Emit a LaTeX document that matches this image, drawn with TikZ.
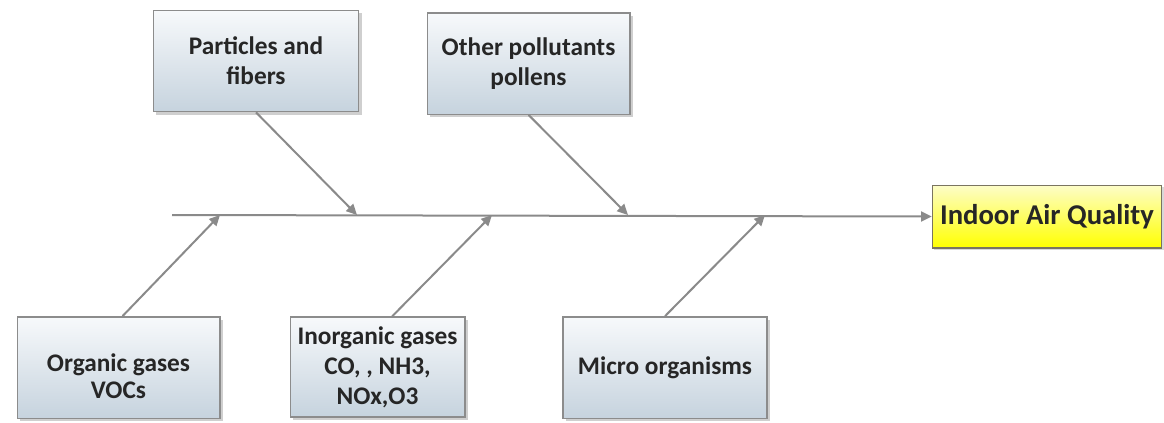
\documentclass[tikz,border=0pt]{standalone}
\usepackage{fontspec}
\setmainfont{Carlito}
\usetikzlibrary{arrows.meta,shadows}

\definecolor{boxtop}{HTML}{F7F9FB}
\definecolor{boxbot}{HTML}{C6D3DE}
\definecolor{boxline}{HTML}{8C8C8C}
\definecolor{iaqtop}{HTML}{FDFDC8}
\definecolor{iaqline}{HTML}{7A7460}
\definecolor{bonegray}{HTML}{8A8A8A}

\tikzset{
  causebox/.style={draw=boxline, line width=1pt, top color=boxtop, bottom color=boxbot,
    align=center, font=\bfseries\fontsize{19}{22.5}\selectfont, text=black!85,
    inner sep=1pt, drop shadow={shadow xshift=2.2pt, shadow yshift=-2.2pt, fill=gray!75}},
  effectbox/.style={draw=iaqline, line width=1pt, top color=iaqtop, bottom color=yellow,
    align=center, font=\bfseries\fontsize{21.5}{26}\selectfont, text=black!85,
    inner sep=1pt, drop shadow={shadow xshift=1.5pt, shadow yshift=-1.5pt, fill=gray!60}},
  bone/.style={draw=bonegray, line width=1.5pt, -{Triangle[length=8pt, width=7.5pt]}}
}

\begin{document}
\begin{tikzpicture}[x=0.75pt, y=-0.75pt]
   \useasboundingbox (0,0) rectangle (1164,422);

   % effect and spine
   \node(IAQ)[effectbox, minimum width=172pt, minimum height=47pt] at (1047,216.5) {Indoor Air Quality};
   \coordinate(S) at (172,215);
   \draw[bone] (S) -- (IAQ.west);

   % points where the bones meet the spine
   \coordinate(C1) at (220,215);
   \coordinate(C2) at (357,215);
   \coordinate(C3) at (492,215);
   \coordinate(C4) at (628,215);
   \coordinate(C5) at (765,215);

   % upper causes
   \node(PF)[causebox, minimum width=154pt, minimum height=76pt] at (256,61) {Particles and\\fibers};
   \node(OP)[causebox, minimum width=152pt, minimum height=76pt] at (528.5,63.5) {Other pollutants\\pollens};

   % lower causes
   \node(OG)[causebox, minimum width=152pt, minimum height=76pt,
     font=\bfseries\fontsize{19}{20}\selectfont] at (118.5,367.5) {\rule{0pt}{26pt}Organic gases\\VOCs};
   \node(IG)[causebox, minimum width=131pt, minimum height=75pt] at (377.5,367) {Inorganic gases\\CO, , NH3,\\NOx,O3};
   \node(MO)[causebox, minimum width=153pt, minimum height=76pt] at (665,367.5) {Micro organisms};

   \draw[bone] (PF.south) -- (C2);
   \draw[bone] (OP.south) -- (C4);
   \draw[bone] ([xshift=3pt]OG.north) -- (C1);
   \draw[bone] ([xshift=11pt]IG.north) -- (C3);
   \draw[bone] (MO.north) -- (C5);
\end{tikzpicture}
\end{document}
